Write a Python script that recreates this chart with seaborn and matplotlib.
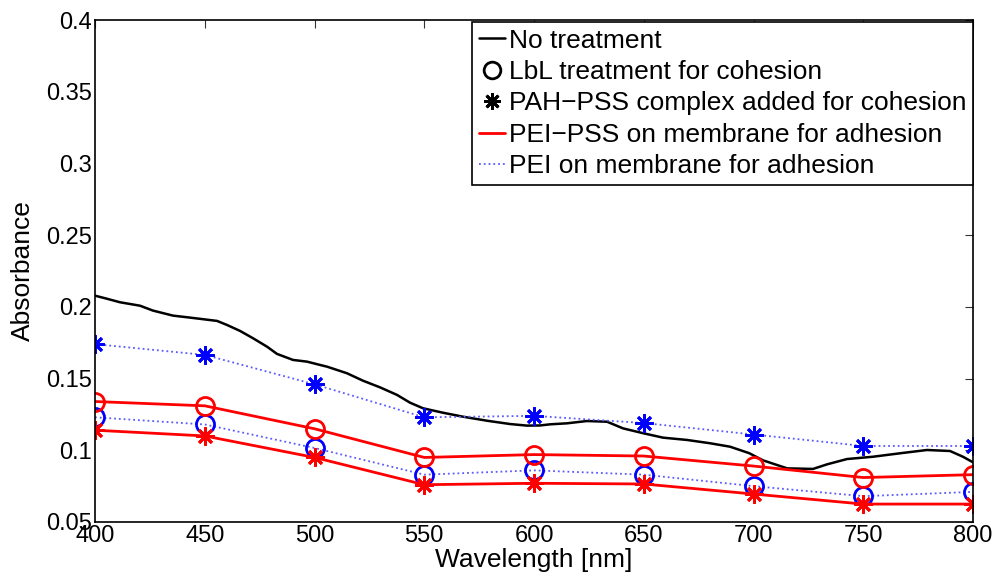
import numpy as np
import seaborn as sns
import matplotlib.pyplot as plt
from matplotlib.lines import Line2D

# wavelength sample points for the treated membranes
wl = [400, 450, 500, 550, 600, 650, 700, 750, 800]

# untreated spectrum
wl_none = [400.0, 404.6, 411.4, 420.5, 426.4, 435.5, 443.3, 449.2, 455.6, 460.1,
           466.1, 472.0, 478.4, 482.9, 490.2, 496.6, 502.5, 505.7, 514.8, 522.1,
           529.8, 537.6, 543.5, 549.4, 558.5, 567.7, 578.6, 589.1, 596.8, 602.7,
           607.3, 615.0, 624.1, 633.3, 640.5, 649.7, 658.8, 669.7, 680.2, 689.3,
           698.0, 704.3, 715.3, 727.1, 733.5, 742.6, 754.4, 766.7, 779.0, 789.5,
           795.4, 800.0]
abs_none = [0.2078, 0.2060, 0.2032, 0.2008, 0.1974, 0.1939, 0.1925, 0.1914, 0.1902,
            0.1874, 0.1832, 0.1781, 0.1722, 0.1672, 0.1630, 0.1618, 0.1595, 0.1583,
            0.1537, 0.1485, 0.1439, 0.1386, 0.1332, 0.1293, 0.1262, 0.1234, 0.1206,
            0.1183, 0.1172, 0.1173, 0.1181, 0.1188, 0.1204, 0.1199, 0.1153, 0.1119,
            0.1088, 0.1072, 0.1049, 0.1025, 0.0980, 0.0930, 0.0874, 0.0870, 0.0902,
            0.0939, 0.0955, 0.0979, 0.1002, 0.0995, 0.0955, 0.0916]

# PEI on membrane (blue dotted)
pei_lbl = [0.123, 0.118, 0.1016, 0.083, 0.086, 0.083, 0.075, 0.068, 0.071]
pei_pah = [0.174, 0.1665, 0.146, 0.123, 0.124, 0.119, 0.111, 0.103, 0.103]

# PEI-PSS on membrane (red solid)
peipss_lbl = [0.134, 0.131, 0.115, 0.095, 0.097, 0.096, 0.089, 0.081, 0.083]
peipss_pah = [0.114, 0.110, 0.095, 0.076, 0.077, 0.0765, 0.0695, 0.0625, 0.0625]

labels = ['No treatment', 'LbL treatment for cohesion',
          'PAH\u2212PSS complex added for cohesion',
          'PEI\u2212PSS on membrane for adhesion', 'PEI on membrane for adhesion']

sns.set_style('white')
plt.rcParams['font.family'] = ['Liberation Sans', 'DejaVu Sans']
plt.rcParams['text.color'] = 'black'
plt.rcParams['axes.labelcolor'] = 'black'
plt.rcParams['xtick.color'] = 'black'
plt.rcParams['ytick.color'] = 'black'

fig = plt.figure(figsize=(9.98, 5.85), dpi=100)
ax = fig.add_axes([0.0952, 0.1077, 0.8798, 0.8581])

blue_dot = '#5a5aff'
star = (8, 2, 0)

sns.lineplot(x=wl_none, y=abs_none, color='black', linewidth=1.8, ax=ax, legend=False)
sns.lineplot(x=wl, y=pei_lbl, color=blue_dot, linestyle=':', linewidth=1.3, ax=ax,
             legend=False, marker='o', markersize=13, markerfacecolor='none',
             markeredgecolor='blue', markeredgewidth=2)
sns.lineplot(x=wl, y=pei_pah, color=blue_dot, linestyle=':', linewidth=1.3, ax=ax,
             legend=False, marker=star, markersize=13, markeredgecolor='blue',
             markeredgewidth=2)
sns.lineplot(x=wl, y=peipss_lbl, color='red', linewidth=2, ax=ax, legend=False,
             marker='o', markersize=13, markerfacecolor='none',
             markeredgecolor='red', markeredgewidth=2)
sns.lineplot(x=wl, y=peipss_pah, color='red', linewidth=2, ax=ax, legend=False,
             marker=star, markersize=13, markeredgecolor='red', markeredgewidth=2)

ax.set_xlim(400, 800)
ax.set_ylim(0.05, 0.4)
ax.set_xticks(wl)
ax.set_yticks([0.05, 0.1, 0.15, 0.2, 0.25, 0.3, 0.35, 0.4])
ax.set_yticklabels(['0.05', '0.1', '0.15', '0.2', '0.25', '0.3', '0.35', '0.4'])
for t in ax.get_xticklabels() + ax.get_yticklabels():
    t.set_fontsize(17)
ax.tick_params(direction='in', length=6, width=0.8, top=True, right=True,
               color='#333333', pad=2)
for s in ax.spines.values():
    s.set_color('black')
    s.set_linewidth(1.2)

ax.set_xlabel('Wavelength [nm]', fontsize=19, labelpad=1)
ax.set_ylabel('Absorbance', fontsize=19, labelpad=8)

handles = [
    Line2D([], [], color='black', linewidth=1.8),
    Line2D([], [], color='black', linestyle='none', marker='o', markersize=12,
           markerfacecolor='none', markeredgewidth=2),
    Line2D([], [], color='black', linestyle='none', marker=star, markersize=12,
           markeredgewidth=2),
    Line2D([], [], color='red', linewidth=2),
    Line2D([], [], color=blue_dot, linestyle=':', linewidth=1.3),
]
leg = ax.legend(handles, labels, loc='upper right', bbox_to_anchor=(1.0, 0.996),
                fontsize=19, handlelength=1.0, handletextpad=0.15, labelspacing=0.28,
                borderpad=0.25, borderaxespad=0, fancybox=False, framealpha=1,
                edgecolor='black')
leg.get_frame().set_linewidth(1.2)

fig.savefig('out.png', dpi=100)
